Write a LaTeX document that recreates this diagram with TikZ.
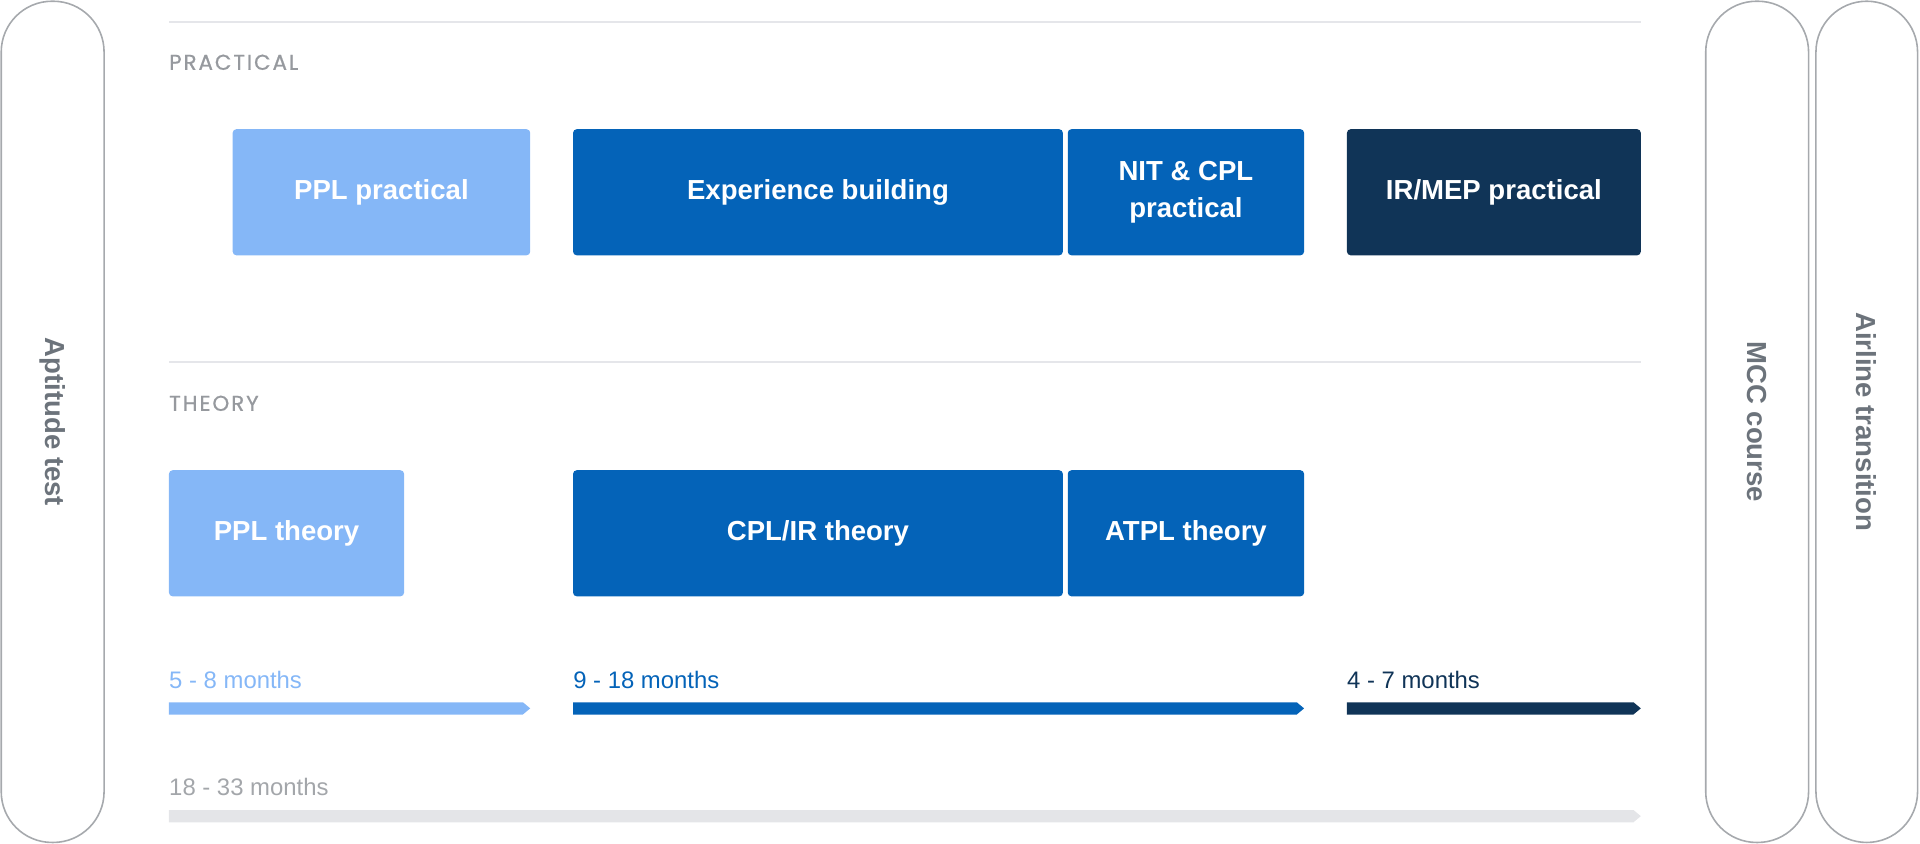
\documentclass[tikz,border=0pt]{standalone}
\usepackage{fontspec}
\setmainfont{Liberation Sans}
\newfontfamily\headfont[LetterSpace=9, FakeBold=0.8]{Poppins}
\usepackage{tikz}
\definecolor{lightcol}{RGB}{133,183,247}
\definecolor{midcol}{RGB}{4,99,184}
\definecolor{darkcol}{RGB}{16,52,87}
\definecolor{pillcol}{RGB}{166,169,173}
\definecolor{pilltext}{RGB}{108,115,123}
\definecolor{rulecol}{RGB}{229,230,234}
\definecolor{headcol}{RGB}{150,153,158}
\definecolor{totalcol}{RGB}{228,229,232}
\definecolor{totaltext}{RGB}{163,166,170}

\tikzset{
  phase/.style={rectangle, rounded corners=3, text=white, inner sep=0, align=center,
    minimum height=103, font=\fontsize{22.5}{30}\selectfont\bfseries},
  pill/.style={rectangle, draw=pillcol, line width=1.3, rounded corners=41.5, inner sep=0,
    rotate=-90, minimum width=687, text=pilltext, font=\fontsize{22.5}{27}\selectfont\bfseries},
  head/.style={anchor=base west, inner sep=0, text=headcol, font=\headfont\fontsize{17.5}{20}\selectfont},
  months/.style={anchor=base west, inner sep=0, font=\fontsize{19.5}{23}\selectfont},
}

\begin{document}
\begin{tikzpicture}[x=1pt, y=-1pt]
    \useasboundingbox (0,0) rectangle (1568,689);

    \node[pill, minimum height=84] (aptitude) at (43,344.5) {Aptitude test};
    \node[pill, minimum height=84] (mcc) at (1435,344.5) {MCC course};
    \node[pill, minimum height=83] (airline) at (1524.5,344.5) {Airline transition};

    \draw[rulecol, line width=1.6] (138,17.7) -- (1340,17.7);
    \draw[rulecol, line width=1.6] (138,296) -- (1340,296);
    \node[head] (practical) at (138,57) {PRACTICAL};
    \node[head] (theory) at (138,335.5) {THEORY};

    \node[phase, fill=lightcol, minimum width=243] (pplprac) at (311.5,157) {PPL practical};
    \node[phase, fill=midcol, minimum width=400] (expbuild) at (668,157) {Experience building};
    \node[phase, fill=midcol, minimum width=193] (nitcpl) at (968.5,157) {NIT \& CPL\\practical};
    \node[phase, fill=darkcol, minimum width=240] (irmep) at (1220,157) {IR/MEP practical};

    \node[phase, fill=lightcol, minimum width=192] (ppltheo) at (234,435.5) {PPL theory};
    \node[phase, fill=midcol, minimum width=400] (cplir) at (668,435.5) {CPL/IR theory};
    \node[phase, fill=midcol, minimum width=193] (atpl) at (968.5,435.5) {ATPL theory};

    \node[months, text=lightcol] (pplmonths) at (138,562) {5 - 8 months};
    \node[months, text=midcol] (cplmonths) at (468,562) {9 - 18 months};
    \node[months, text=darkcol] (irmonths) at (1100,562) {4 - 7 months};
    \node[months, text=totaltext] (totalmonths) at (138,650) {18 - 33 months};

    \fill[lightcol] (138,573.5) -- (427,573.5) -- (433,578.5) -- (427,583.5) -- (138,583.5) -- cycle;
    \fill[midcol] (468,573.5) -- (1059,573.5) -- (1065,578.5) -- (1059,583.5) -- (468,583.5) -- cycle;
    \fill[darkcol] (1100,573.5) -- (1334,573.5) -- (1340,578.5) -- (1334,583.5) -- (1100,583.5) -- cycle;
    \fill[totalcol] (138,661.5) -- (1334,661.5) -- (1340,666.5) -- (1334,671.5) -- (138,671.5) -- cycle;

\end{tikzpicture}
\end{document}
